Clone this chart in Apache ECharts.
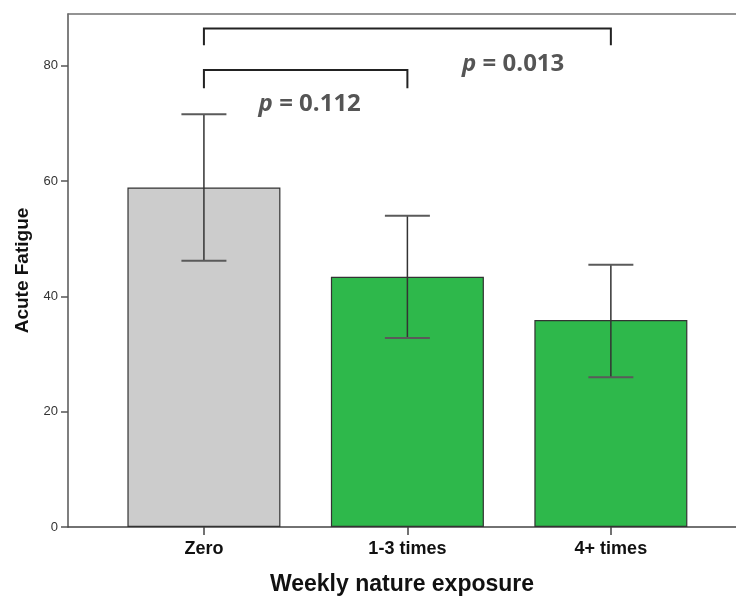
<!DOCTYPE html>
<html>
<head>
<meta charset="utf-8">
<script src="https://cdn.jsdelivr.net/npm/echarts@6/dist/echarts.min.js"></script>
<style>
  html, body { margin: 0; padding: 0; background: #fff; }
  #chart { width: 736px; height: 596px; }
</style>
</head>
<body>
<div id="chart"></div>
<script>
// data
var categories = ["Zero", "1-3 times", "4+ times"];
var means = [58.9, 43.4, 35.9];
var errLow = [46.2, 32.8, 26.0];
var errHigh = [71.6, 54.0, 45.5];
var barColors = ["#cccccc", "#2eb84b", "#2eb84b"];
// brackets: [from, to, top, foot]
var brackets = [[1, 2, 79.3, 76.1], [1, 3, 86.5, 83.6]];
// p labels: [text, x, y]
var pLabels = [["0.112", 1.52, 73.4], ["0.013", 2.52, 80.3]];
var yTicks = [0, 20, 40, 60, 80];

var xPos = categories.map(function (c, i) { return i + 1; });

var chart = echarts.init(document.getElementById("chart"));

var option = {
  animation: false,
  grid: { left: 68, right: 0, top: 14, bottom: 69, outerBoundsMode: "none", containLabel: false },
  xAxis: [{
    type: "value",
    min: 0.332,
    max: 3.615,
    splitLine: { show: false },
    axisLine: { show: true, onZero: false, lineStyle: { color: "#444", width: 1.5 } },
    axisTick: { show: true, customValues: xPos, length: 8, lineStyle: { color: "#444", width: 1.5 } },
    axisLabel: {
      customValues: xPos,
      formatter: function (v) { return categories[Math.round(v) - 1]; },
      color: "#111", fontFamily: "Liberation Sans", fontWeight: "bold", fontSize: 18, margin: 13
    },
    name: "Weekly nature exposure",
    nameLocation: "middle",
    nameGap: 46,
    nameTextStyle: { color: "#111", fontFamily: "Liberation Sans", fontWeight: "bold", fontSize: 23 }
  }, {
    // top frame line
    type: "value",
    position: "top",
    min: 0.332,
    max: 3.615,
    splitLine: { show: false },
    axisLine: { show: true, onZero: false, lineStyle: { color: "#707070", width: 1.5 } },
    axisTick: { show: false },
    axisLabel: { show: false }
  }],
  yAxis: {
    type: "value",
    min: 0,
    max: 89,
    interval: 20,
    splitLine: { show: false },
    axisLine: { show: true, lineStyle: { color: "#555", width: 1.5 } },
    axisTick: { show: true, customValues: yTicks, length: 7, lineStyle: { color: "#555", width: 1.5 } },
    axisLabel: {
      customValues: yTicks,
      color: "#333", fontFamily: "Liberation Sans", fontSize: 13, margin: 10
    },
    name: "Acute Fatigue",
    nameLocation: "middle",
    nameGap: 33,
    nameTextStyle: { color: "#111", fontFamily: "Liberation Sans", fontWeight: "bold", fontSize: 19 }
  },
  series: [
    {
      type: "bar",
      barWidth: 153,
      data: means.map(function (m, i) {
        return {
          value: [xPos[i], m],
          itemStyle: { color: barColors[i], borderColor: "#333", borderWidth: 1.2 }
        };
      }),
      z: 2
    },
    {
      type: "custom",
      data: means.map(function (m, i) { return [xPos[i], errLow[i], errHigh[i]]; }),
      renderItem: function (params, api) {
        var lo = api.coord([api.value(0), api.value(1)]);
        var hi = api.coord([api.value(0), api.value(2)]);
        var hw = 22.5;
        var st = { stroke: "#333", lineWidth: 1.5 };
        var capSt = { stroke: "#5a5a5a", lineWidth: 2 };
        return {
          type: "group",
          children: [
            { type: "line", shape: { x1: lo[0], y1: lo[1], x2: hi[0], y2: hi[1] }, style: st },
            { type: "line", shape: { x1: hi[0] - hw, y1: hi[1], x2: hi[0] + hw, y2: hi[1] }, style: capSt },
            { type: "line", shape: { x1: lo[0] - hw, y1: lo[1], x2: lo[0] + hw, y2: lo[1] }, style: capSt }
          ]
        };
      },
      z: 3
    },
    {
      type: "custom",
      data: brackets,
      renderItem: function (params, api) {
        var a = api.coord([api.value(0), api.value(2)]);
        var b = api.coord([api.value(1), api.value(2)]);
        var fa = api.coord([api.value(0), api.value(3)]);
        var fb = api.coord([api.value(1), api.value(3)]);
        return {
          type: "polyline",
          shape: { points: [[fa[0], fa[1]], [a[0], a[1]], [b[0], b[1]], [fb[0], fb[1]]] },
          style: { stroke: "#222", lineWidth: 2, fill: null }
        };
      },
      z: 3
    },
    {
      type: "custom",
      data: pLabels.map(function (p) { return [p[1], p[2], p[0]]; }),
      renderItem: function (params, api) {
        var c = api.coord([api.value(0), api.value(1)]);
        var txt = pLabels[params.dataIndex][0];
        return {
          type: "text",
          x: c[0], y: c[1],
          style: {
            text: "{p|p}{v| = " + txt + "}",
            align: "center",
            verticalAlign: "middle",
            rich: {
              p: { fontFamily: "Open Sans", fontStyle: "italic", fontWeight: "bold", fontSize: 24, fill: "#555" },
              v: { fontFamily: "Open Sans", fontWeight: "bold", fontSize: 24, fill: "#555" }
            }
          }
        };
      },
      z: 4
    }
  ]
};

chart.setOption(option);
</script>
</body>
</html>
